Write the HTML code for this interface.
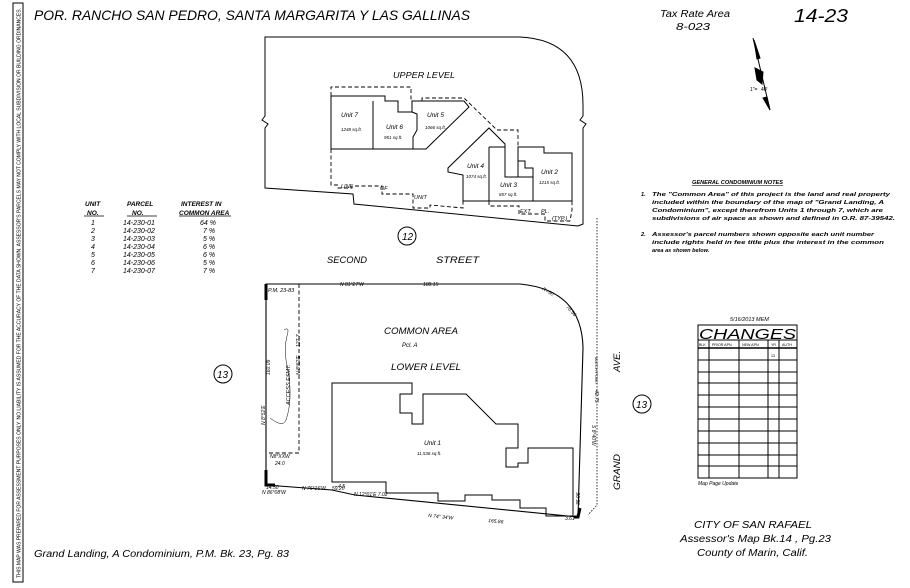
<!DOCTYPE html>
<html><head><meta charset="utf-8"><style>
html,body{margin:0;padding:0;background:#fff;}
svg{display:block;}
text{font-family:"Liberation Sans",sans-serif;fill:#000;}
.i{font-style:italic;}
</style></head><body>
<svg width="910" height="588" viewBox="0 0 910 588" xmlns="http://www.w3.org/2000/svg">
<rect width="910" height="588" fill="#fff"/>
<!-- left disclaimer strip -->
<rect x="13" y="3" width="10" height="579" fill="none" stroke="#000" stroke-width="1"/>
<text transform="translate(20.5,578) rotate(-90)" font-size="5" textLength="570" lengthAdjust="spacingAndGlyphs">THIS MAP WAS PREPARED FOR ASSESSMENT PURPOSES ONLY.  NO LIABILITY IS ASSUMED FOR THE ACCURACY OF THE DATA SHOWN.  ASSESSOR'S PARCELS MAY NOT COMPLY WITH LOCAL SUBDIVISION OR BUILDING ORDINANCES.</text>

<!-- title -->
<text x="34" y="20" font-size="14" class="i" textLength="436" lengthAdjust="spacingAndGlyphs">POR. RANCHO SAN PEDRO, SANTA MARGARITA Y LAS GALLINAS</text>
<text x="660" y="17" font-size="10" class="i" textLength="70" lengthAdjust="spacingAndGlyphs">Tax Rate Area</text>
<text x="676" y="30" font-size="10" class="i" textLength="34" lengthAdjust="spacingAndGlyphs">8-023</text>
<text x="794" y="22" font-size="18" class="i" textLength="54" lengthAdjust="spacingAndGlyphs">14-23</text>

<!-- north arrow -->
<g stroke="#000" fill="#000">
<line x1="753" y1="38" x2="770" y2="110" stroke-width="1"/>
<polygon points="754,40 760,58 757,59"/>
<polygon points="755,68 763,72 762,84 757,80"/>
<polygon points="763,98 767,97 770,110"/>
</g>
<text x="750" y="91" font-size="5">1"=</text><text x="761" y="91" font-size="5">40'</text>

<!-- UPPER parcel -->
<g fill="none" stroke="#000" stroke-width="1">
<path d="M265,37 L520,37 Q583,40 583,105 L583,116 L580,120 L586,124 L583,128 L583,224 L578,226 L354,204 L353,194 L265,188 L265,128 L268,124 L262,120 L265,116 Z"/>
<!-- units 7,6,5 -->
<path d="M331,96 L385,96 L385,101 L398,101 L398,112 L412,112 L412,101 L464,101 L469,107 L426,149 L331,149 Z"/>
<line x1="373" y1="101" x2="373" y2="149"/>
<path d="M412,112 L417,114 L417,130 L413,137 L413,149"/>
<!-- units 4,3,2 -->
<path d="M463,201 L463,175 L448,172 L448,168 L489,128 L505,144 L505,177 L518,177 L518,147 L544,147 L544,153 L572,153 L572,201 Z"/>
<path d="M489,147 L489,201"/>
<path d="M489,147 L505,147"/>
<path d="M518,161 L525,161 L525,168 L533,168 L533,201"/>
<path d="M518,177 L533,177"/>
</g>
<g fill="none" stroke="#000" stroke-width="0.9" stroke-dasharray="4,2.5">
<path d="M331,96 L331,87 L411,87 L411,101"/>
<path d="M422,101 L422,98 L464,98 L497,130 L518,130 L518,147"/>
<path d="M331,149 L331,185 L338,185 L338,188 L352,188 L352,186 L382,186 L382,194 L413,194 L413,208 L430,208 L430,205 L463,208 L463,201"/>
<path d="M489,201 L489,206 L519,206 L519,214 L545,214 L545,221 L570,221 L572,210 L572,201"/>
</g>
<g font-size="5.5" class="i">
<text x="341" y="188">LINE</text><text x="380" y="190">OF</text><text x="414" y="199">UNIT</text>
<text x="520" y="213">EXT.</text><text x="541" y="213">PL.</text><text x="552" y="220">(TYP.)</text>
</g>
<text x="393" y="78" font-size="8" class="i" textLength="62" lengthAdjust="spacingAndGlyphs">UPPER  LEVEL</text>
<g class="i">
<text x="341" y="117" font-size="6.5">Unit 7</text><text x="341" y="131" font-size="4.5">1248 sq.ft.</text>
<text x="386" y="129" font-size="6.5">Unit 6</text><text x="384" y="139" font-size="4.5">951 sq.ft.</text>
<text x="427" y="117" font-size="6.5">Unit 5</text><text x="425" y="129" font-size="4.5">1066 sq.ft.</text>
<text x="467" y="168" font-size="6.5">Unit 4</text><text x="466" y="178" font-size="4.5">1074 sq.ft.</text>
<text x="500" y="187" font-size="6.5">Unit 3</text><text x="499" y="196" font-size="4.5">857 sq.ft.</text>
<text x="541" y="174" font-size="6.5">Unit 2</text><text x="539" y="184" font-size="4.5">1215 sq.ft.</text>
</g>

<circle cx="407" cy="236" r="9" fill="none" stroke="#000" stroke-width="1"/>
<text x="402" y="240" font-size="10" class="i">12</text>
<text x="327" y="263" font-size="9.5" class="i" textLength="40" lengthAdjust="spacingAndGlyphs">SECOND</text>
<text x="436" y="263" font-size="9.5" class="i" textLength="43" lengthAdjust="spacingAndGlyphs">STREET</text>

<!-- LOWER parcel -->
<g fill="none" stroke="#000">
<path d="M266,284 L520,284 Q582,290 583,348 L578,517 L355,495 L332,490 L266,485 Z" stroke-width="1.1"/>
<path d="M266,284 L266,300 M266,470 L266,485 L275,485 M574,517 L578,517 L580,508" stroke-width="3"/>
<path d="M332,383 L412,383 L412,394 L400,394 L400,413 L412,413 L412,424 L423,424 L423,394 L466,394 L496,424 L518,424 L518,448 L506,448 L506,467 L518,467 L518,463 L528,463 L528,448 L573,448 L573,516 L546,516 L546,508 L520,508 L520,500 L492,500 L492,495 L465,495 L465,501 L438,501 L438,493 L386,493 L386,482 L332,482 Z" stroke-width="1"/>
<path d="M299,284 L299,453 L269,453" stroke-width="0.9" stroke-dasharray="4,2.5"/>
<path d="M597,218 L597,505 L588,515" stroke-width="0.8" stroke-dasharray="1.5,1.5"/>
<path d="M284,330 Q290,326 287,336 Q283,350 288,370 Q293,400 286,420 Q283,428 270,418" stroke-width="0.5"/>
</g>
<g font-size="5" class="i">
<text x="268" y="292" font-size="5.5">P.M. 23-83</text>
<text x="340" y="286">N 81°27'W</text><text x="423" y="286">188.15</text>
<text x="542" y="290" transform="rotate(30 542 290)">R=50</text>
<text x="566" y="307" transform="rotate(50 566 307)">78.56</text>
<text x="270" y="458">N8°XXW</text><text x="275" y="465">24.0</text>
<text x="266" y="489">14.50</text>
<text x="262" y="494">N 86°08'W</text><text x="302" y="490">N 76°16'W</text><text x="332" y="490">59.20</text>
<text x="335" y="488">- 4.5</text>
<text x="354" y="496">N 12°01'E  7.02</text>
<text x="428" y="517" transform="rotate(6 428 517)">N 74° 34'W</text>
<text x="488" y="522" transform="rotate(6 488 522)">165.86</text>
<text x="565" y="520">3.61</text>
<text transform="translate(270,375) rotate(-90)">160.09</text>
<text transform="translate(265,425) rotate(-90)">N 8°52'E</text>
<text transform="translate(290,405) rotate(-90)" font-size="5.5">ACCESS  ESMT.</text>
<text transform="translate(300,375) rotate(-90)">N 8°52'E</text>
<text transform="translate(300,347) rotate(-90)">127.7</text>
<text transform="translate(595,390) rotate(90)">42.75</text>
<text transform="translate(592,425) rotate(90)">S 8°40'W</text>
<text transform="translate(595,357) rotate(90)" font-size="4">MATCH POINT</text>
<text transform="translate(580,505) rotate(-90)">36.96</text>
</g>
<text x="384" y="334" font-size="9" class="i" textLength="74" lengthAdjust="spacingAndGlyphs">COMMON   AREA</text>
<text x="402" y="347" font-size="6" class="i">Pcl. A</text>
<text x="391" y="370" font-size="9" class="i" textLength="70" lengthAdjust="spacingAndGlyphs">LOWER   LEVEL</text>
<text x="424" y="445" font-size="6.5" class="i">Unit 1</text>
<text x="417" y="455" font-size="4.5" class="i">11,536 sq.ft.</text>

<circle cx="223" cy="374" r="9" fill="none" stroke="#000" stroke-width="1"/>
<text x="217" y="378" font-size="10" class="i">13</text>
<circle cx="642" cy="404" r="9" fill="none" stroke="#000" stroke-width="1"/>
<text x="636" y="408" font-size="10" class="i">13</text>
<text transform="translate(620,372) rotate(-90)" font-size="9.5" class="i">AVE.</text>
<text transform="translate(620,490) rotate(-90)" font-size="9.5" class="i" textLength="36" lengthAdjust="spacingAndGlyphs">GRAND</text>

<!-- unit table -->
<g font-size="6.5" class="i" font-weight="bold">
<text x="85" y="206">UNIT</text><text x="87" y="215">NO.</text>
<text x="127" y="206">PARCEL</text><text x="132" y="215">NO.</text>
<text x="181" y="206">INTEREST  IN</text><text x="179" y="215">COMMON  AREA</text>
</g>
<g stroke="#000" stroke-width="0.8"><line x1="84" y1="216" x2="104" y2="216"/><line x1="127" y1="216" x2="157" y2="216"/><line x1="179" y1="216" x2="231" y2="216"/></g>
<g font-size="7" class="i">
<text x="91" y="225">1</text><text x="123" y="225">14-230-01</text><text x="200" y="225">64 %</text>
<text x="91" y="233">2</text><text x="123" y="233">14-230-02</text><text x="203" y="233">7 %</text>
<text x="91" y="241">3</text><text x="123" y="241">14-230-03</text><text x="203" y="241">5 %</text>
<text x="91" y="249">4</text><text x="123" y="249">14-230-04</text><text x="203" y="249">6 %</text>
<text x="91" y="257">5</text><text x="123" y="257">14-230-05</text><text x="203" y="257">6 %</text>
<text x="91" y="265">6</text><text x="123" y="265">14-230-06</text><text x="203" y="265">5 %</text>
<text x="91" y="273">7</text><text x="123" y="273">14-230-07</text><text x="203" y="273">7 %</text>
</g>

<!-- notes -->
<g font-size="5.6" class="i" font-weight="bold">
<text x="692" y="184" text-decoration="underline">GENERAL  CONDOMINIUM  NOTES</text>
<text x="641" y="196">1.</text>
<text x="652" y="196" textLength="238" lengthAdjust="spacingAndGlyphs">The "Common Area" of this project is the land and real property</text>
<text x="652" y="204" textLength="232" lengthAdjust="spacingAndGlyphs">included within the boundary of the map of "Grand Landing, A</text>
<text x="652" y="212" textLength="231" lengthAdjust="spacingAndGlyphs">Condominium", except therefrom Units 1 through 7, which are</text>
<text x="652" y="220" textLength="243" lengthAdjust="spacingAndGlyphs">subdivisions of air space as shown and defined in O.R. 87-39542.</text>
<text x="641" y="236">2.</text>
<text x="652" y="236" textLength="222" lengthAdjust="spacingAndGlyphs">Assessor's parcel numbers shown opposite each unit number</text>
<text x="652" y="244" textLength="232" lengthAdjust="spacingAndGlyphs">include rights held in fee title plus the interest in the common</text>
<text x="652" y="252">area as shown below.</text>
</g>

<!-- changes table -->
<text x="730" y="321" font-size="5.5" class="i">5/16/2013  MEM</text>
<g fill="none" stroke="#000" stroke-width="1">
<rect x="698" y="325" width="99" height="153"/>
<line x1="698" y1="340" x2="797" y2="340"/>
<line x1="698" y1="348" x2="797" y2="348" stroke-width="1.5"/>
<line x1="709" y1="340" x2="709" y2="478"/>
<line x1="739" y1="340" x2="739" y2="478"/>
<line x1="768" y1="340" x2="768" y2="478"/>
<line x1="779" y1="340" x2="779" y2="478"/>
<path d="M698,360H797M698,372H797M698,383H797M698,395H797M698,407H797M698,419H797M698,431H797M698,443H797M698,455H797M698,466H797"/>
</g>
<text x="699" y="339" font-size="15" class="i" textLength="97" lengthAdjust="spacingAndGlyphs">CHANGES</text>
<g font-size="3.6"><text x="699" y="346">BLK</text><text x="712" y="346">PRIOR APN</text><text x="742" y="346">NEW APN</text><text x="771" y="346">YR</text><text x="782" y="346">AUTH</text>
<text x="771" y="357">13</text></g>
<text x="698" y="485" font-size="5" class="i">Map Page Update</text>

<!-- footer -->
<text x="694" y="528" font-size="10" class="i" textLength="118" lengthAdjust="spacingAndGlyphs">CITY OF SAN RAFAEL</text>
<text x="680" y="542" font-size="10" class="i" textLength="151" lengthAdjust="spacingAndGlyphs">Assessor's  Map Bk.14 , Pg.23</text>
<text x="697" y="556" font-size="10" class="i" textLength="111" lengthAdjust="spacingAndGlyphs">County of Marin, Calif.</text>
<text x="34" y="557" font-size="10" class="i" textLength="255" lengthAdjust="spacingAndGlyphs">Grand Landing, A Condominium, P.M. Bk. 23, Pg. 83</text>
</svg>
</body></html>
